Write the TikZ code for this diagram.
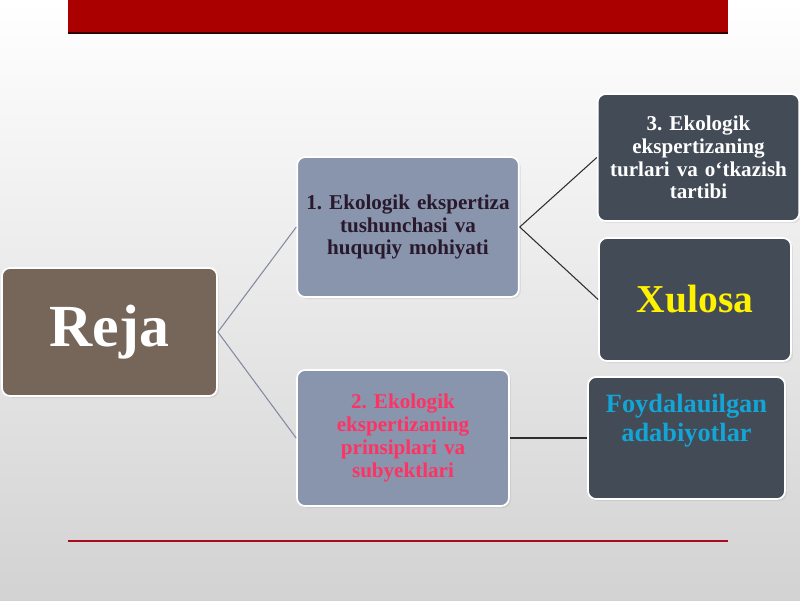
\documentclass[tikz,border=0pt]{standalone}
\usepackage{fontspec}
\setmainfont{Liberation Serif}
\usetikzlibrary{shadows}
\frenchspacing

\newcommand{\varW}{800}
\newcommand{\varH}{600}
\definecolor{barred}{RGB}{171,0,0}
\definecolor{linered}{RGB}{170,10,30}
\definecolor{rejabrown}{RGB}{118,101,89}
\definecolor{slateblue}{RGB}{137,149,172}
\definecolor{darkslate}{RGB}{67,75,87}
\definecolor{wirelight}{RGB}{130,138,160}
\definecolor{wiredark}{RGB}{45,45,50}
\definecolor{inkdark}{RGB}{40,25,45}
\definecolor{inkpink}{RGB}{255,50,100}
\definecolor{inkcyan}{RGB}{20,165,215}

\begin{document}
\begin{tikzpicture}[x=0.02cm, y=-0.02cm,
	box/.style={draw=white, line width=1pt, rounded corners=0.16cm, align=center,
		font=\bfseries, drop shadow={opacity=0.15, shadow xshift=0.04cm, shadow yshift=-0.04cm}},
	wire/.style={line width=0.6pt}]

	% background
	\shade [top color=white, bottom color=gray!35, draw=none] (0,0) rectangle (\varW,\varH);
	\useasboundingbox (0,0) rectangle (\varW,\varH);

	% bars
	\fill [barred] (68,0) rectangle (728,33);
	\draw [black!70!barred, line width=1pt] (68,33) -- (728,33);
	\draw [linered, line width=1.2pt] (68,541) -- (728,541);

	% boxes
	\node [box, fill=rejabrown, text=white, minimum width=4.3cm, minimum height=2.56cm,
		font=\bfseries\fontsize{34}{40}\selectfont] (reja) at (109.5,332) {Reja};
	\node [box, fill=slateblue, text=inkdark, minimum width=4.4cm, minimum height=2.8cm,
		text width=4.2cm, font=\bfseries\fontsize{12}{13}\selectfont] (tushuncha) at (408,227)
		{1. Ekologik ekspertiza\\ tushunchasi va\\ huquqiy mohiyati};
	\node [box, fill=slateblue, text=inkpink, minimum width=4.24cm, minimum height=2.72cm,
		text width=3.9cm, font=\bfseries\fontsize{12}{13}\selectfont] (prinsip) at (403,438)
		{2. Ekologik\\ ekspertizaning\\ prinsiplari va\\ subyektlari};
	\node [box, fill=darkslate, text=white, minimum width=3.98cm, minimum height=2.54cm,
		text width=3.8cm, font=\bfseries\fontsize{12}{13}\selectfont] (turlari) at (698.5,157.5)
		{3. Ekologik\\ ekspertizaning\\ turlari va o‘tkazish\\ tartibi};
	\node [box, fill=darkslate, text=yellow, minimum width=3.84cm, minimum height=2.46cm,
		font=\bfseries\fontsize{22.5}{26}\selectfont] (xulosa) at (695,299.5) {Xulosa};
	\node [box, fill=darkslate, text=inkcyan, minimum width=3.86cm, minimum height=2.44cm,
		inner sep=0.12cm, font=\bfseries\fontsize{15}{16.5}\selectfont] (adabiyot) at (686.5,438)
		{\parbox[c][2.2cm][t]{3.7cm}{\vspace*{0.22cm}\centering Foydalauilgan\\ adabiyotlar}};

	% connectors
	\draw [wire, wirelight] (reja.east) -- (tushuncha.west);
	\draw [wire, wirelight] (reja.east) -- (prinsip.west);
	\draw [wire, wiredark] (tushuncha.east) -- (turlari.west);
	\draw [wire, wiredark] (tushuncha.east) -- (xulosa.west);
	\draw [wire, wiredark] (prinsip.east) -- (adabiyot.west);

\end{tikzpicture}
\end{document}
